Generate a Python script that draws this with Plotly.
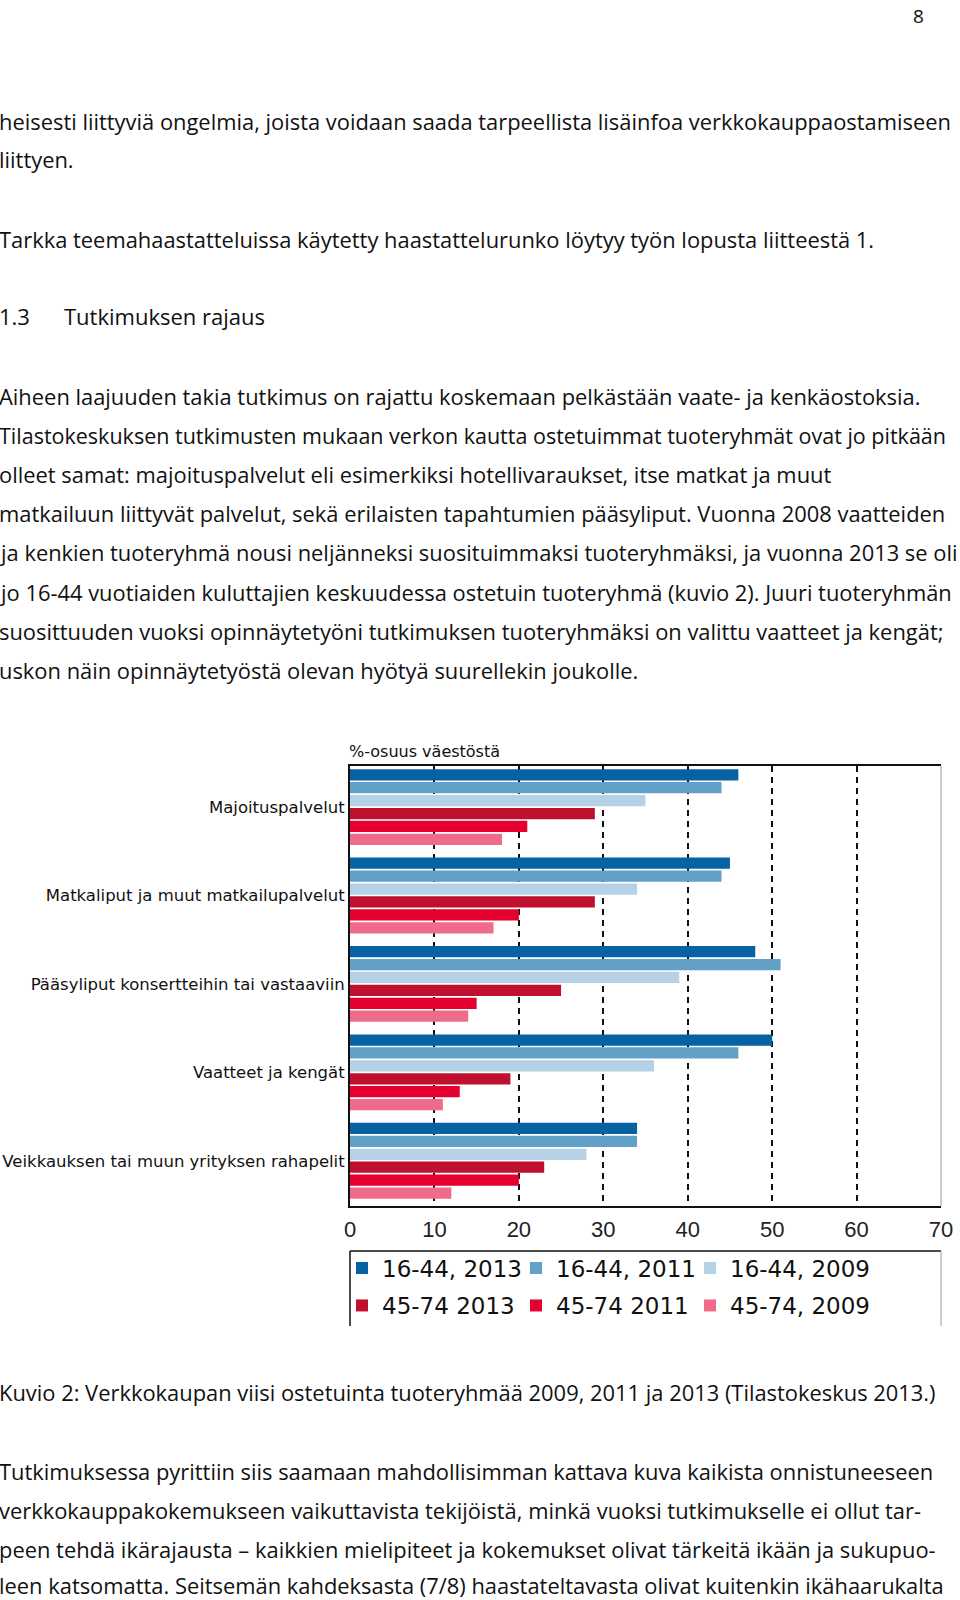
import plotly.graph_objects as go

# ---------------- data ----------------
categories = [
    "Majoituspalvelut",
    "Matkaliput ja muut matkailupalvelut",
    "Pääsyliput konsertteihin tai vastaaviin",
    "Vaatteet ja kengät",
    "Veikkauksen tai muun yrityksen rahapelit",
]
series_names = ["16-44, 2013", "16-44, 2011", "16-44, 2009",
                "45-74 2013", "45-74 2011", "45-74, 2009"]
v_16_44_2013 = [46, 45, 48, 50, 34]
v_16_44_2011 = [44, 44, 51, 46, 34]
v_16_44_2009 = [35, 34, 39, 36, 28]
v_45_74_2013 = [29, 29, 25, 19, 23]
v_45_74_2011 = [21, 20, 15, 13, 20]
v_45_74_2009 = [18, 17, 14, 11, 12]
series_values = [v_16_44_2013, v_16_44_2011, v_16_44_2009,
                 v_45_74_2013, v_45_74_2011, v_45_74_2009]
colors = ["#0563A3", "#62A0C8", "#B4D1E6", "#C0102F", "#E6002F", "#F06A8A"]
x_ticks = [0, 10, 20, 30, 40, 50, 60, 70]

chart_title = "%-osuus väestöstä"
page_number = "8"
body_lines = [
    ("heisesti liittyviä ongelmia, joista voidaan saada tarpeellista lisäinfoa verkkokauppaostamiseen", 121, 21.9),
    ("liittyen.", 160, 21.9),
    ("Tarkka teemahaastatteluissa käytetty haastattelurunko löytyy työn lopusta liitteestä 1.", 239, 21.9),
    ("Aiheen laajuuden takia tutkimus on rajattu koskemaan pelkästään vaate- ja kenkäostoksia.", 396, 21.9),
    ("Tilastokeskuksen tutkimusten mukaan verkon kautta ostetuimmat tuoteryhmät ovat jo pitkään", 435, 21.5),
    ("olleet samat: majoituspalvelut eli esimerkiksi hotellivaraukset, itse matkat ja muut", 474, 21.9),
    ("matkailuun liittyvät palvelut, sekä erilaisten tapahtumien pääsyliput. Vuonna 2008 vaatteiden", 513, 21.9),
    ("ja kenkien tuoteryhmä nousi neljänneksi suosituimmaksi tuoteryhmäksi, ja vuonna 2013 se oli", 552, 21.9),
    ("jo 16-44 vuotiaiden kuluttajien keskuudessa ostetuin tuoteryhmä (kuvio 2). Juuri tuoteryhmän", 592, 21.9),
    ("suosittuuden vuoksi opinnäytetyöni tutkimuksen tuoteryhmäksi on valittu vaatteet ja kengät;", 631, 21.9),
    ("uskon näin opinnäytetyöstä olevan hyötyä suurellekin joukolle.", 670, 21.9),
    ("Kuvio 2: Verkkokaupan viisi ostetuinta tuoteryhmää 2009, 2011 ja 2013 (Tilastokeskus 2013.)", 1392, 21.9),
    ("Tutkimuksessa pyrittiin siis saamaan mahdollisimman kattava kuva kaikista onnistuneeseen", 1471, 21.9),
    ("verkkokauppakokemukseen vaikuttavista tekijöistä, minkä vuoksi tutkimukselle ei ollut tar-", 1510, 21.9),
    ("peen tehdä ikärajausta – kaikkien mielipiteet ja kokemukset olivat tärkeitä ikään ja sukupuo-", 1549, 21.9),
    ("leen katsomatta. Seitsemän kahdeksasta (7/8) haastateltavasta olivat kuitenkin ikähaarukalta", 1585, 21.9),
]
heading_num = "1.3"
heading_text = "Tutkimuksen rajaus"

# ---------------- geometry (page pixels) ----------------
W, H = 960, 1600
PL, PR, PT, PB = 350, 941, 766, 1206      # plot area
PW, PH = PR - PL, PB - PT

def px(x):
    return (x - PL) / PW

def py(y):
    return (PB - y) / PH

BODY = "Open Sans"
CHART = "DejaVu Sans"

fig = go.Figure()
for i, (name, vals, col) in enumerate(zip(series_names, series_values, colors)):
    fig.add_trace(go.Bar(
        y=categories, x=vals, name=name, orientation="h",
        marker=dict(color=col, line=dict(width=0)),
        legend="legend" if i < 3 else "legend2",
        legendwidth=150 if i % 3 == 2 else 129,
        hoverinfo="x+name",
    ))

ann = []
for text, yc, fs in body_lines:
    ann.append(dict(text=text, x=px(-3), y=py(yc), xref="paper", yref="paper",
                    xanchor="left", yanchor="middle", showarrow=False,
                    font=dict(family=BODY, size=fs, color="#111111")))
ann.append(dict(text=heading_num, x=px(-3), y=py(316), xref="paper", yref="paper",
                xanchor="left", yanchor="middle", showarrow=False,
                font=dict(family=BODY, size=22, color="#111111")))
ann.append(dict(text=heading_text, x=px(62), y=py(316), xref="paper", yref="paper",
                xanchor="left", yanchor="middle", showarrow=False,
                font=dict(family=BODY, size=22, color="#111111")))
ann.append(dict(text=page_number, x=px(918), y=py(0.5), xref="paper", yref="paper",
                xanchor="center", yanchor="top", showarrow=False,
                font=dict(family=BODY, size=19, color="#111111")))
ann.append(dict(text=chart_title, x=px(347), y=py(751), xref="paper", yref="paper",
                xanchor="left", yanchor="middle", showarrow=False,
                font=dict(family=CHART, size=16, color="#111111")))

leg_t, leg_b = 1251, 1326
shapes = [
    # right border of plot area (thin grey), hiding any grid line at 70
    dict(type="line", xref="paper", yref="paper", x0=1, x1=1, y0=0, y1=1,
         line=dict(color="white", width=4)),
    dict(type="line", xref="paper", yref="paper", x0=1, x1=1, y0=0, y1=1,
         line=dict(color="#9a9a9a", width=1)),
    # legend frame
    dict(type="line", xref="paper", yref="paper", x0=0, x1=1,
         y0=py(leg_t), y1=py(leg_t), line=dict(color="#111111", width=1.5)),
    dict(type="line", xref="paper", yref="paper", x0=0, x1=0,
         y0=py(leg_t), y1=py(leg_b), line=dict(color="#111111", width=1.5)),
    dict(type="line", xref="paper", yref="paper", x0=1, x1=1,
         y0=py(leg_t), y1=py(leg_b), line=dict(color="#9a9a9a", width=1)),
]

legend_common = dict(orientation="h", x=px(342), xanchor="left", yanchor="top",
                     font=dict(family=CHART, size=23, color="#111111"),
                     entrywidthmode="pixels",
                     bgcolor="rgba(0,0,0,0)", borderwidth=0,
                     traceorder="normal", itemclick=False, itemdoubleclick=False)

fig.update_layout(
    template="none",
    width=W, height=H,
    margin=dict(l=PL, r=W - PR, t=PT, b=H - PB, pad=0, autoexpand=False),
    paper_bgcolor="white", plot_bgcolor="white",
    barmode="group", bargap=0.123, bargroupgap=0.13,
    annotations=ann, shapes=shapes,
    showlegend=True,
    legend=dict(y=py(1246.5), **legend_common),
    legend2=dict(y=py(1284), **legend_common),
    xaxis=dict(range=[0, 70], tickvals=x_ticks, automargin=False,
               showgrid=True, gridcolor="#111111", gridwidth=2, griddash="6px,5px",
               showline=True, linecolor="#111111", linewidth=1.5, mirror=True,
               ticks="outside", ticklen=3, tickcolor="rgba(0,0,0,0)",
               tickfont=dict(family="Liberation Sans", size=22, color="#222222"),
               zeroline=False, fixedrange=True),
    yaxis=dict(type="category", automargin=False,
               categoryorder="array", categoryarray=categories,
               range=[4.512, -0.465],
               showline=True, linecolor="#111111", linewidth=2, mirror=False,
               showgrid=False, zeroline=False, ticks="",
               tickfont=dict(family=CHART, size=16.5, color="#111111"),
               fixedrange=True),
)

fig.write_html("out.html", config={"displayModeBar": False},
               post_script="document.body.style.margin='0px';")
